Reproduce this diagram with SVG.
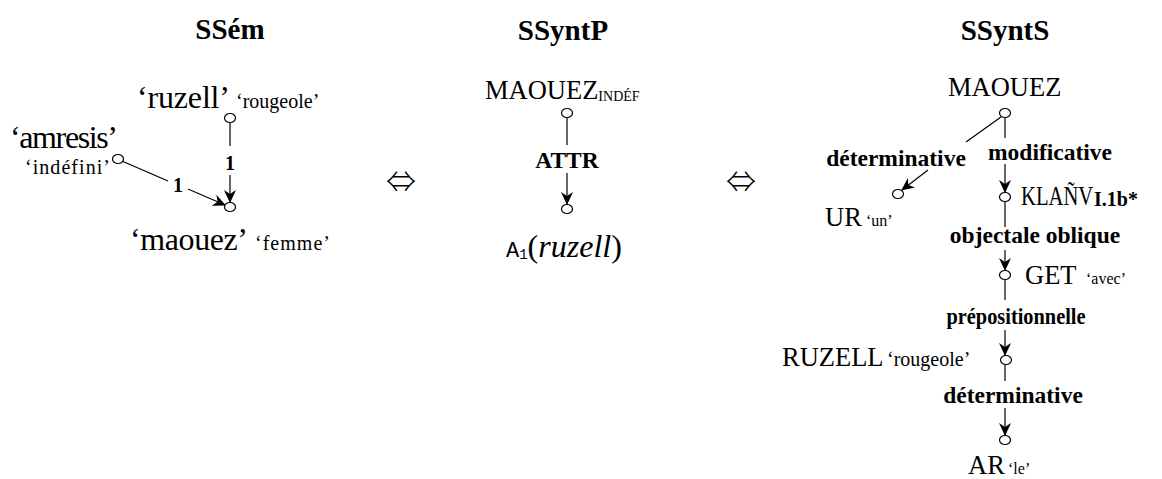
<svg xmlns="http://www.w3.org/2000/svg" width="1162" height="479" viewBox="0 0 1162 479">
<style>
text{font-family:"Liberation Serif","Times New Roman",serif;fill:#000}
.title{font-size:29px;font-weight:bold;text-anchor:middle}
.big{font-size:32px}
.lex{font-size:26.5px}
.sm{font-size:20px}
.ssm{font-size:16px}
.lab{font-size:23.5px;font-weight:bold;text-anchor:middle}
.num{font-size:20px;font-weight:bold;text-anchor:middle}
.sym{font-family:"Noto Sans CJK JP","DejaVu Sans",sans-serif;font-weight:300;font-size:30px;text-anchor:middle}
.mono{font-family:"Liberation Mono","Courier New",monospace}
ellipse{fill:#fff;stroke:#000;stroke-width:1.2}
.e line{stroke:#000;stroke-width:1.2}
</style>
<defs>
<marker id="ah" markerUnits="userSpaceOnUse" markerWidth="13" markerHeight="12" viewBox="0 0 13 12" refX="12" refY="6" orient="auto">
<path d="M0,0 L13,6 L0,12 L4,6 Z" fill="#000"/>
</marker>
</defs>

<g id="titles">
<text class="title" x="230" y="39">SSém</text>
<text class="title" x="563" y="40">SSyntP</text>
<text class="title" x="1005" y="40">SSyntS</text>
</g>

<g id="equiv">
<text class="sym" x="401" y="192">⇔</text>
<text class="sym" x="741" y="192">⇔</text>
</g>

<!-- SSem -->
<g class="e" id="ssem-edges">
<line x1="230" y1="123" x2="230" y2="146"/>
<text class="num" x="230" y="170">1</text>
<line x1="230" y1="175" x2="230" y2="202" marker-end="url(#ah)"/>
<line x1="123" y1="161.5" x2="168" y2="181"/>
<text class="num" x="178" y="192">1</text>
<line x1="188" y1="189" x2="225" y2="205" marker-end="url(#ah)"/>
</g>
<g id="ssem-ruzell">
<text class="big" x="137" y="108" textLength="93">‘ruzell’</text>
<text class="sm" x="236" y="108">‘rougeole’</text>
<ellipse cx="230" cy="118" rx="5.5" ry="4.5"/>
</g>
<g id="ssem-amresis">
<text class="big" x="10" y="148" textLength="108">‘amresis’</text>
<text class="sm" x="25" y="174" textLength="85">‘indéfini’</text>
<ellipse cx="118" cy="159" rx="5.5" ry="4.5"/>
</g>
<g id="ssem-maouez">
<ellipse cx="230" cy="207" rx="5.5" ry="4.5"/>
<text class="big" x="130" y="250" textLength="118">‘maouez’</text>
<text class="sm" x="255" y="250" textLength="75">‘femme’</text>
</g>

<!-- SSyntP -->
<g class="e" id="ssyntp-edges">
<line x1="567" y1="118" x2="567" y2="145"/>
<text class="lab" x="567" y="168">ATTR</text>
<line x1="567" y1="173" x2="567" y2="204" marker-end="url(#ah)"/>
</g>
<g id="ssyntp-maouez">
<text class="lex" x="485" y="99">MAOUEZ<tspan font-size="14" dy="2">INDÉF</tspan></text>
<ellipse cx="567" cy="113" rx="5.5" ry="4.5"/>
</g>
<g id="ssyntp-a1">
<ellipse cx="567" cy="209" rx="5.5" ry="4.5"/>
<text x="506" y="257"><tspan class="mono" font-size="22">A</tspan><tspan class="mono" font-size="14" dy="2">1</tspan><tspan font-size="32" dy="-2">(</tspan><tspan font-size="32" font-style="italic">ruzell</tspan><tspan font-size="32">)</tspan></text>
</g>

<!-- SSyntS -->
<g class="e" id="ssynts-edges">
<line x1="1001" y1="117" x2="966" y2="142"/>
<text class="lab" x="896" y="166">déterminative</text>
<line x1="928" y1="170" x2="902" y2="190" marker-end="url(#ah)"/>
<line x1="1005" y1="118" x2="1005" y2="138"/>
<text class="lab" x="1050" y="160">modificative</text>
<line x1="1005" y1="164" x2="1005" y2="192" marker-end="url(#ah)"/>
<line x1="1005" y1="202" x2="1005" y2="227"/>
<text class="lab" x="1035" y="243">objectale oblique</text>
<line x1="1005" y1="250" x2="1005" y2="270" marker-end="url(#ah)"/>
<line x1="1005" y1="280" x2="1005" y2="300"/>
<text class="lab" x="1016" y="324" textLength="139" lengthAdjust="spacingAndGlyphs">prépositionnelle</text>
<line x1="1005" y1="330" x2="1005" y2="355" marker-end="url(#ah)"/>
<line x1="1005" y1="365" x2="1005" y2="381"/>
<text class="lab" x="1013" y="403">déterminative</text>
<line x1="1005" y1="408" x2="1005" y2="435" marker-end="url(#ah)"/>
</g>
<g id="ssynts-maouez">
<text class="lex" x="948" y="96">MAOUEZ</text>
<ellipse cx="1005" cy="113" rx="5.5" ry="4.5"/>
</g>
<g id="ssynts-ur">
<ellipse cx="898" cy="194" rx="5.5" ry="4.5"/>
<text class="lex" x="825" y="226">UR</text>
<text class="ssm" x="866" y="226">‘un’</text>
</g>
<g id="ssynts-klanv">
<ellipse cx="1005" cy="197" rx="5.5" ry="4.5"/>
<text class="lex" transform="translate(1021,205) scale(0.78,1)">KLAÑV</text>
<text x="1094" y="206" font-size="20" font-weight="bold">I.1b*</text>
</g>
<g id="ssynts-get">
<ellipse cx="1005" cy="275" rx="5.5" ry="4.5"/>
<text class="lex" x="1025" y="284">GET</text>
<text class="ssm" x="1086" y="284">‘avec’</text>
</g>
<g id="ssynts-ruzell">
<text class="lex" x="782" y="366">RUZELL</text>
<text class="sm" x="887" y="366" font-size="24.5">‘rougeole’</text>
<ellipse cx="1006" cy="360" rx="5.5" ry="4.5"/>
</g>
<g id="ssynts-ar">
<ellipse cx="1005" cy="440" rx="5.5" ry="4.5"/>
<text class="lex" x="968" y="474">AR</text>
<text class="ssm" x="1008" y="474">‘le’</text>
</g>
</svg>
